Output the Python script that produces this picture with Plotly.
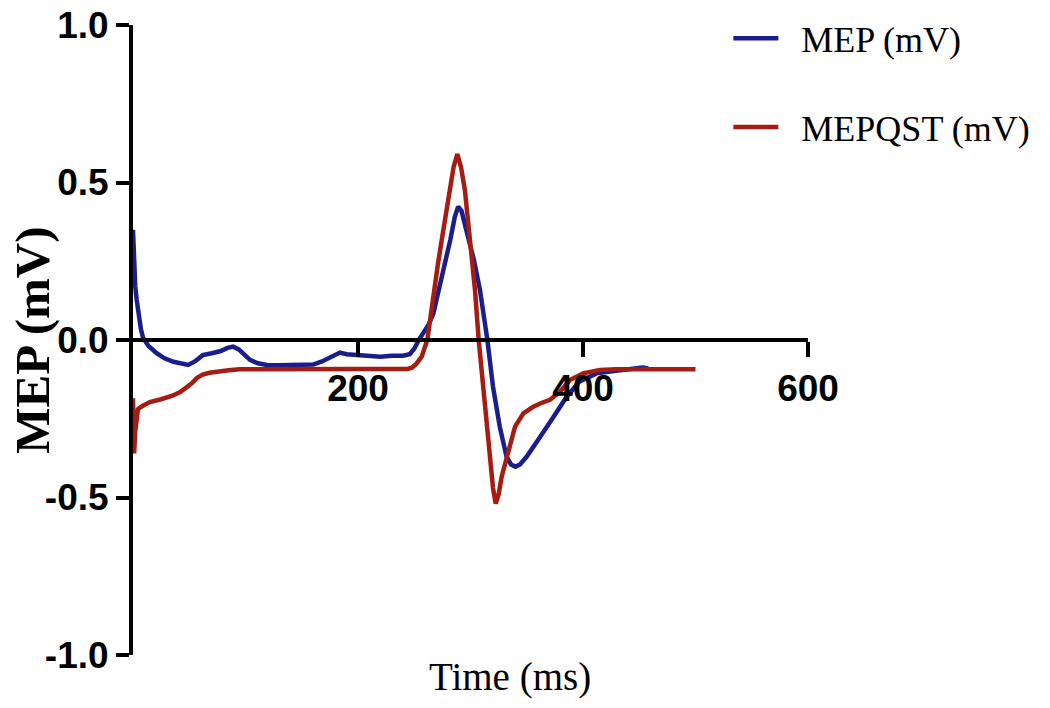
import plotly.graph_objects as go

# ---- data ----
mep_x = [0, 1, 2, 3.3, 5, 7, 9, 14, 21, 28, 36, 43, 49, 55, 62, 70, 78, 84, 89, 94,
         99, 104, 111, 119, 130, 145, 160, 168, 176, 184, 190, 200, 210, 220, 230, 240,
         246, 250, 254, 258, 263, 267, 272, 277, 282, 286, 289, 292, 295, 298, 303,
         308.4, 311.4, 315, 320, 326, 332, 336, 340, 344, 350, 356, 362, 374, 385.5,
         397, 412, 424, 440, 453, 458]
mep_y = [0.35, 0.25, 0.17, 0.127, 0.075, 0.035, 0.006, -0.02, -0.042, -0.058, -0.069,
         -0.076, -0.079, -0.068, -0.048, -0.042, -0.035, -0.025, -0.021, -0.03,
         -0.048, -0.063, -0.074, -0.079, -0.08, -0.08, -0.078, -0.068, -0.052, -0.04,
         -0.045, -0.048, -0.05, -0.053, -0.05, -0.05,
         -0.045, -0.028, 0.0, 0.021, 0.05, 0.085, 0.159, 0.24, 0.317, 0.39, 0.423,
         0.41, 0.37, 0.317, 0.254,
         0.159, 0.085, 0.0, -0.148, -0.275, -0.37, -0.395, -0.402, -0.395, -0.37,
         -0.34, -0.307, -0.243, -0.18,
         -0.132, -0.106, -0.1, -0.092, -0.087, -0.09]

qst_x = [0, 1, 2, 3, 4.4, 8, 15, 25, 35, 42, 48, 52, 57, 62, 68, 74, 85, 95, 120, 200,
         244, 248, 252, 256.6, 261.6, 264.5, 267.8, 271, 274.4, 278, 281.8, 285, 288.3,
         291.5, 295, 300, 304, 307.3, 310, 313, 317.3, 320, 322.4, 325, 327.7, 333.6,
         339.6, 347, 355.8, 363, 370.7, 379.6, 388.4, 400, 415, 430, 500]
qst_y = [-0.185, -0.36, -0.29, -0.245, -0.22, -0.21, -0.197, -0.188, -0.177, -0.165,
         -0.15, -0.138, -0.12, -0.11, -0.104, -0.10, -0.096, -0.093, -0.092, -0.092,
         -0.092, -0.088, -0.075, -0.053, 0.0, 0.08, 0.159, 0.24, 0.317, 0.40, 0.476,
         0.55, 0.59,
         0.55, 0.476, 0.317, 0.159, 0.0, -0.1, -0.2, -0.381, -0.47, -0.519, -0.49,
         -0.434, -0.349,
         -0.275, -0.233, -0.212, -0.2, -0.19, -0.164, -0.127, -0.106, -0.095, -0.093,
         -0.093]

x_ticks = [200, 400, 600]
y_ticks = [-1.0, -0.5, 0.0, 0.5, 1.0]
y_tick_labels = ["-1.0", "-0.5", "0.0", "0.5", "1.0"]

BLUE = "#1a1e8c"
RED = "#a51c12"
SERIF = "Times New Roman, Liberation Serif, serif"
SANS = "Liberation Sans Narrow, Arial Narrow, Liberation Sans, Arial, sans-serif"
GAP = "\u00a0\u00a0"

fig = go.Figure()
fig.add_trace(go.Scatter(x=mep_x, y=mep_y, mode="lines", name=GAP + "MEP (mV)",
                         line=dict(color=BLUE, width=4.5), legend="legend"))
fig.add_trace(go.Scatter(x=qst_x, y=qst_y, mode="lines", name=GAP + "MEPQST (mV)",
                         line=dict(color=RED, width=4.5), legend="legend2"))

# page body has an 8px default margin -> figure is 1034x692, offset by 8px
fig.update_layout(
    width=1034, height=692,
    margin=dict(l=125, r=234, t=17, b=45, autoexpand=False),
    paper_bgcolor="white", plot_bgcolor="white",
    xaxis=dict(range=[0, 600], tickvals=x_ticks, ticks="outside", ticklen=15,
               tickwidth=4, tickcolor="black", showline=True, linewidth=4,
               linecolor="black", showgrid=False, zeroline=False,
               anchor="free", position=0.5, automargin=False,
               ticklabeloverflow="allow",
               tickfont=dict(family=SANS, size=37, color="black", weight="bold")),
    yaxis=dict(range=[-1, 1], tickvals=y_ticks, ticktext=y_tick_labels,
               ticks="outside", ticklen=13, tickwidth=4, tickcolor="black",
               showline=True, linewidth=4, linecolor="black", showgrid=False,
               zeroline=False, automargin=False, ticklabeloverflow="allow",
               tickfont=dict(family=SANS, size=37, color="black", weight="bold")),
    legend=dict(x=0.882, y=0.979, xanchor="left", yanchor="middle", itemwidth=45,
                bgcolor="rgba(0,0,0,0)",
                font=dict(family=SERIF, size=36, color="black")),
    legend2=dict(x=0.882, y=0.838, xanchor="left", yanchor="middle", itemwidth=45,
                 bgcolor="rgba(0,0,0,0)",
                 font=dict(family=SERIF, size=36, color="black")),
    showlegend=True,
    annotations=[
        dict(text="Time (ms)", x=0.5585, y=-0.035, xref="paper", yref="paper",
             xanchor="center", yanchor="middle", showarrow=False,
             font=dict(family=SERIF, size=39, color="black")),
        dict(text="<b>MEP (mV)</b>", x=-0.150, y=0.5, xref="paper", yref="paper",
             xanchor="center", yanchor="middle", textangle=-90, showarrow=False,
             font=dict(family=SERIF, size=49, color="black")),
    ],
)

fig.write_html("out.html")
